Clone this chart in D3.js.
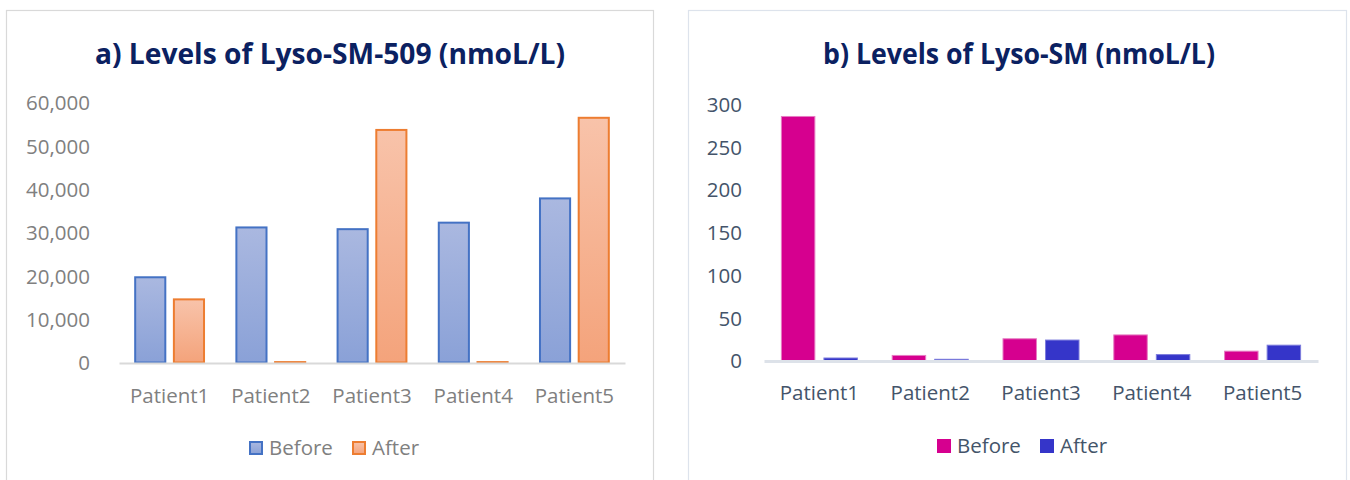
<!DOCTYPE html>
<html>
<head>
<meta charset="utf-8">
<script src="https://cdn.jsdelivr.net/npm/d3@7"></script>
<style>
  html, body { margin: 0; padding: 0; background: #fff; }
  svg { display: block; }
  text { font-family: "Open Sans", "Noto Sans", sans-serif; }
</style>
</head>
<body>
<svg id="chart" width="1350" height="480"></svg>
<script>
// ---------- data ----------
const categories = ["Patient1", "Patient2", "Patient3", "Patient4", "Patient5"];
const seriesNames = ["Before", "After"];

// a) Lyso-SM-509 (nmoL/L)
const lyso509Before = [19900, 31400, 31000, 32500, 38100];
const lyso509After  = [14800, 250, 53900, 250, 56700];
const lyso509Ticks  = [0, 10000, 20000, 30000, 40000, 50000, 60000];

// b) Lyso-SM (nmoL/L)
const lysoSMBefore = [286, 6.5, 26, 30.5, 11.5];
const lysoSMAfter  = [3.5, 2, 24.5, 7.5, 18.5];
const lysoSMTicks  = [0, 50, 100, 150, 200, 250, 300];

const titleA = "a) Levels of Lyso-SM-509 (nmoL/L)";
const titleB = "b) Levels of Lyso-SM (nmoL/L)";

// ---------- drawing ----------
const svg = d3.select("#chart");
const defs = svg.append("defs");

function grad(id, top, bottom) {
  const g = defs.append("linearGradient").attr("id", id)
    .attr("x1", 0).attr("y1", 0).attr("x2", 0).attr("y2", 1);
  g.append("stop").attr("offset", "0%").attr("stop-color", top);
  g.append("stop").attr("offset", "100%").attr("stop-color", bottom);
}
grad("gBefore", "#aab8e0", "#8aa1d7");
grad("gAfter", "#f8c3aa", "#f4a37b");

function panel(cfg) {
  const g = svg.append("g");
  // frame
  g.append("rect")
    .attr("x", cfg.frame[0] + 0.5).attr("y", cfg.frame[1] + 0.5)
    .attr("width", cfg.frame[2]).attr("height", cfg.frame[3])
    .attr("fill", "#fff").attr("stroke", cfg.frameColor).attr("stroke-width", 1.2);

  // title
  g.append("text")
    .attr("x", cfg.titleX).attr("y", cfg.titleY)
    .attr("text-anchor", "middle")
    .attr("font-weight", 700).attr("font-size", 29)
    .attr("fill", "#0b2161")
    .attr("textLength", cfg.titleW).attr("lengthAdjust", "spacingAndGlyphs")
    .text(cfg.title);

  const x = d3.scaleBand().domain(categories)
    .range([cfg.x0, cfg.x1]).paddingInner(cfg.padIn).paddingOuter(cfg.padIn / 2);
  const xs = d3.scaleBand().domain(seriesNames)
    .range([0, x.bandwidth()]).paddingInner(cfg.subPad);
  const y = d3.scaleLinear().domain([0, cfg.ticks[cfg.ticks.length - 1]])
    .range([cfg.y0, cfg.yTop]);

  // y axis labels (axis line hidden)
  const yAxis = d3.axisLeft(y).tickValues(cfg.ticks).tickSize(0).tickPadding(0)
    .tickFormat(cfg.fmt);
  const ya = g.append("g").attr("transform", `translate(${cfg.yLabelX},0)`).call(yAxis);
  ya.select(".domain").remove();
  ya.selectAll("text").attr("font-size", 20.5).attr("fill", cfg.textColor)
    .attr("font-family", "Open Sans").attr("dy", "0.36em");

  // bars
  const data = [];
  categories.forEach((c, i) => {
    data.push({ c, s: "Before", v: cfg.before[i] });
    data.push({ c, s: "After", v: cfg.after[i] });
  });
  g.append("g").selectAll("rect").data(data).join("rect")
    .attr("x", d => x(d.c) + xs(d.s) + cfg.strokeW / 2)
    .attr("width", xs.bandwidth() - cfg.strokeW)
    .attr("y", d => Math.min(y(d.v) + cfg.strokeW / 2, y(0) - 0.4))
    .attr("height", d => Math.max(0.4, y(0) - y(d.v) - cfg.strokeW / 2))
    .attr("fill", d => cfg.fill[d.s])
    .attr("stroke", d => cfg.stroke[d.s])
    .attr("stroke-width", cfg.strokeW);

  // x axis line + labels
  const xAxis = d3.axisBottom(x).tickSize(0).tickPadding(0);
  const xa = g.append("g").attr("transform", `translate(0,${cfg.axisY})`).call(xAxis);
  xa.select(".domain").attr("stroke", cfg.axisColor).attr("stroke-width", cfg.axisW);
  xa.selectAll("text").attr("font-size", 20.5).attr("fill", cfg.textColor)
    .attr("font-family", "Open Sans")
    .attr("y", cfg.xLabelY - cfg.axisY).attr("dy", 0);

  // legend
  seriesNames.forEach((s, i) => {
    const lx = cfg.legendX[i];
    g.append("rect")
      .attr("x", lx + cfg.legStroke / 2).attr("y", cfg.legendY + cfg.legStroke / 2)
      .attr("width", 14 - cfg.legStroke).attr("height", 14 - cfg.legStroke)
      .attr("fill", cfg.fill[s]).attr("stroke", cfg.stroke[s])
      .attr("stroke-width", cfg.legStroke);
    g.append("text")
      .attr("x", lx + 20).attr("y", cfg.legendY + 14)
      .attr("font-size", 20.5).attr("fill", cfg.textColor)
      .text(s);
  });
}

panel({
  frame: [6, 10, 647, 480],
  frameColor: "#d9d9d9",
  title: titleA, titleX: 330, titleY: 64, titleW: 470,
  x0: 119, x1: 625, padIn: 0.3, subPad: 0.17,
  y0: 362.5, yTop: 102.5, ticks: lyso509Ticks,
  fmt: d3.format(","),
  yLabelX: 90,
  before: lyso509Before, after: lyso509After,
  fill: { Before: "url(#gBefore)", After: "url(#gAfter)" },
  stroke: { Before: "#4472c4", After: "#ed7d31" },
  strokeW: 2,
  axisY: 363, axisColor: "#d9d9d9", axisW: 2,
  xLabelY: 403,
  textColor: "#808080",
  legendX: [249, 352], legendY: 441, legStroke: 2
});

panel({
  frame: [688, 10, 658, 480],
  frameColor: "#dde3ec",
  title: titleB, titleX: 1019, titleY: 64, titleW: 392,
  x0: 764, x1: 1318, padIn: 0.305, subPad: 0.19,
  y0: 360.5, yTop: 104, ticks: lysoSMTicks,
  fmt: d3.format("d"),
  yLabelX: 742,
  before: lysoSMBefore, after: lysoSMAfter,
  fill: { Before: "#d6008f", After: "#3535c9" },
  stroke: { Before: "#e67cc2", After: "#7c7cdc" },
  strokeW: 1,
  axisY: 361, axisColor: "#dde2e9", axisW: 3,
  xLabelY: 400,
  textColor: "#44546a",
  legendX: [937, 1040], legendY: 439, legStroke: 0
});
</script>
</body>
</html>
